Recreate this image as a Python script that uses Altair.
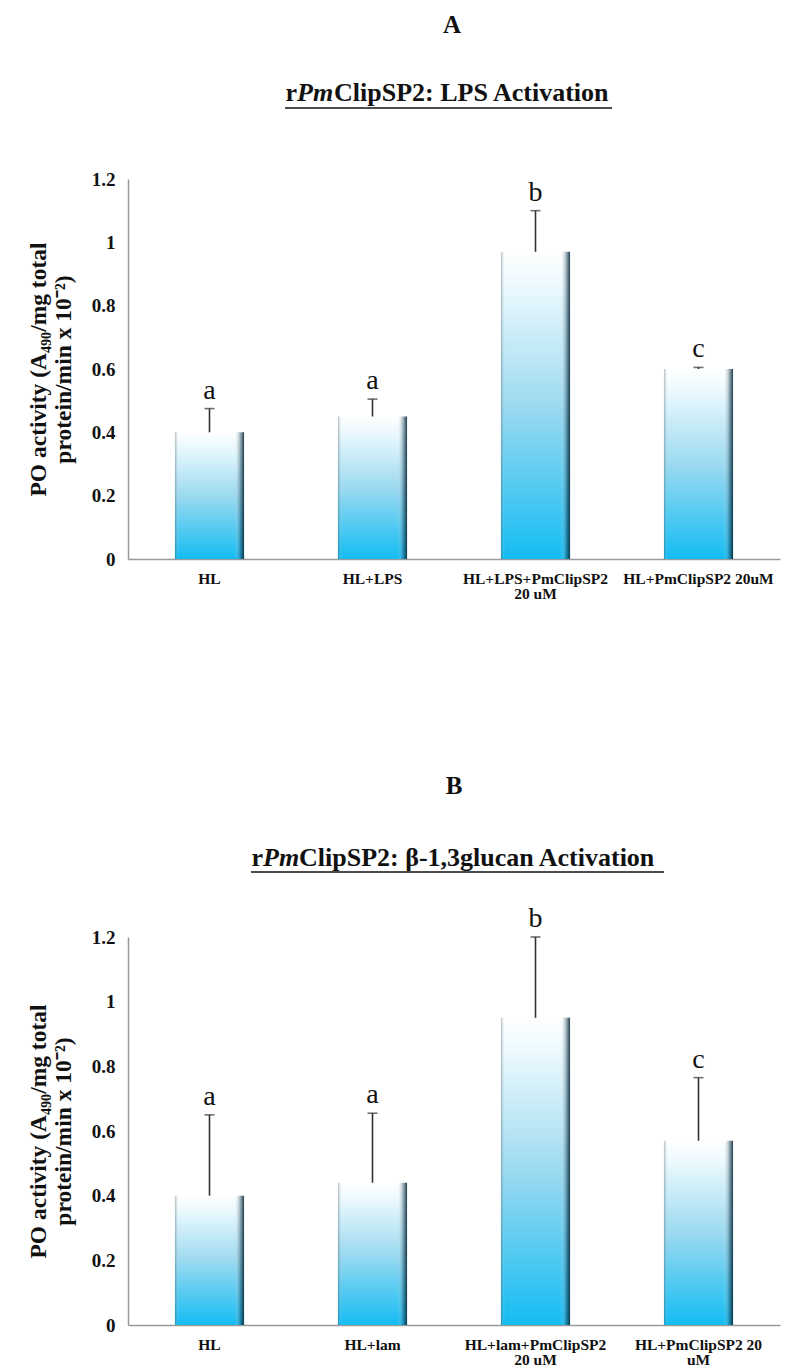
import altair as alt
import pandas as pd

# ---- data ----
cats_A = ["HL", "HL+LPS", "HL+LPS+PmClipSP2\n20 uM", "HL+PmClipSP2 20uM"]
means_A = [0.40, 0.45, 0.97, 0.60]
errs_A = [0.075, 0.055, 0.13, 0.005]
letters_A = ["a", "a", "b", "c"]

cats_B = ["HL", "HL+lam", "HL+lam+PmClipSP2\n20 uM", "HL+PmClipSP2 20\nuM"]
means_B = [0.40, 0.44, 0.95, 0.57]
errs_B = [0.25, 0.215, 0.25, 0.195]
letters_B = ["a", "a", "b", "c"]

y_ticks = [0, 0.2, 0.4, 0.6, 0.8, 1.0, 1.2]
y_title = ["PO activity (A₄₉₀/mg total", "protein/min x 10⁻²)"]

FONT = "Liberation Serif"

vert_grad = {
    "gradient": "linear", "x1": 0, "y1": 0, "x2": 0, "y2": 1,
    "stops": [
        {"offset": 0.0, "color": "#ffffff"},
        {"offset": 0.10, "color": "#eefafe"},
        {"offset": 0.5, "color": "#9cdaf0"},
        {"offset": 1.0, "color": "#14bcf3"},
    ],
}
side_grad = {
    "gradient": "linear", "x1": 0, "y1": 0, "x2": 1, "y2": 0,
    "stops": [
        {"offset": 0.0, "color": "rgba(30,60,75,0.35)"},
        {"offset": 0.06, "color": "rgba(255,255,255,0)"},
        {"offset": 0.86, "color": "rgba(255,255,255,0)"},
        {"offset": 0.95, "color": "rgba(20,60,80,0.45)"},
        {"offset": 1.0, "color": "rgba(10,40,55,0.9)"},
    ],
}


def panel(cats, means, errs, letters, w, h, letter, rest, x_r, x_rest, ul_x1, ul_x2,
          letter_x, letter_y, title_y, ul_y):
    df = pd.DataFrame({
        "cat": cats,
        "mean": means,
        "upper": [m + e for m, e in zip(means, errs)],
        "sig": letters,
    })
    xenc = alt.X(
        "cat:N", sort=cats, title=None,
        scale=alt.Scale(paddingInner=0.576, paddingOuter=0.288),
        axis=alt.Axis(labelAngle=0, ticks=False, domainColor="#9a9a9a", domainWidth=1.5,
                      labelFont=FONT, labelFontSize=15.5, labelFontWeight="bold",
                      labelColor="#111", labelPadding=12, labelLineHeight=15,
                      labelExpr="split(datum.label, '\\n')"),
    )
    yscale = alt.Scale(domain=[0, 1.2], nice=False)
    yenc = alt.Y(
        "mean:Q", scale=yscale, title=y_title,
        axis=alt.Axis(values=y_ticks, format="~g", ticks=False, grid=False,
                      domainColor="#9a9a9a", domainWidth=1.5,
                      labelFont=FONT, labelFontSize=19, labelFontWeight="bold",
                      labelColor="#111", labelPadding=13,
                      titleFont=FONT, titleFontSize=23.5, titleFontWeight="bold",
                      titleColor="#111", titlePadding=16, titleLineHeight=25),
    )
    base = alt.Chart(df)
    bars = base.mark_bar(color=vert_grad).encode(x=xenc, y=yenc)
    bevel = base.mark_bar(color=side_grad).encode(x=xenc, y=yenc)
    err = base.mark_rule(color="#333", strokeWidth=1.6).encode(
        x=xenc, y=alt.Y("mean:Q", scale=yscale), y2="upper:Q")
    cap = base.mark_tick(color="#333", thickness=1.6, size=10, orient="horizontal").encode(
        x=xenc, y=alt.Y("upper:Q", scale=yscale))
    sig = base.mark_text(font=FONT, fontSize=28, color="#111", baseline="alphabetic",
                         dy=-10).encode(x=xenc, y=alt.Y("upper:Q", scale=yscale), text="sig:N")

    one = pd.DataFrame({"t": [letter]})
    t_letter = alt.Chart(one).mark_text(font=FONT, fontSize=25, fontWeight="bold",
                                        color="#111", baseline="alphabetic",
                                        align="center").encode(
        x=alt.value(letter_x), y=alt.value(letter_y), text="t:N")
    t_r = alt.Chart(pd.DataFrame({"t": ["r"]})).mark_text(
        font=FONT, fontSize=26, fontWeight="bold", color="#111",
        baseline="alphabetic", align="right").encode(
        x=alt.value(x_r), y=alt.value(title_y), text="t:N")
    t_pm = alt.Chart(pd.DataFrame({"t": ["Pm"]})).mark_text(
        font=FONT, fontSize=26, fontWeight="bold", fontStyle="italic", color="#111",
        baseline="alphabetic", align="left").encode(
        x=alt.value(x_r), y=alt.value(title_y), text="t:N")
    t_rest = alt.Chart(pd.DataFrame({"t": [rest]})).mark_text(
        font=FONT, fontSize=26, fontWeight="bold", color="#111",
        baseline="alphabetic", align="left").encode(
        x=alt.value(x_rest), y=alt.value(title_y), text="t:N")
    underline = alt.Chart(pd.DataFrame({"t": [0]})).mark_rule(
        color="#111", strokeWidth=1.6).encode(
        x=alt.value(ul_x1), x2=alt.value(ul_x2), y=alt.value(ul_y))

    return alt.layer(bars, bevel, err, cap, sig, t_letter, t_r, t_pm, t_rest,
                     underline).properties(width=w, height=h)


pA = panel(cats_A, means_A, errs_A, letters_A, 652, 380, "A",
           "ClipSP2: LPS Activation", 169, 206, 157, 484, 324, -146, -78, -71)
pB = panel(cats_B, means_B, errs_B, letters_B, 652, 388, "B",
           "ClipSP2: β-1,3glucan Activation", 135, 171, 123, 536, 326, -143, -71, -65)

chart = alt.vconcat(pA, pB, spacing=172).configure_view(stroke=None).properties(
    background="white", padding={"left": 18, "top": 5, "right": 2, "bottom": 2})

chart.save("out.html", embed_options={"renderer": "svg", "actions": False})
